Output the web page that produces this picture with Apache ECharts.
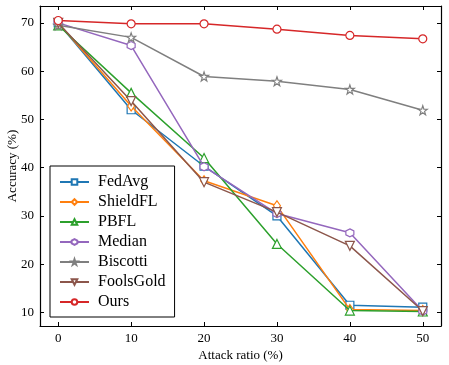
<!DOCTYPE html>
<html><head><meta charset="utf-8">
<script src="https://cdn.jsdelivr.net/npm/echarts@6/dist/echarts.min.js"></script>
<style>html,body{margin:0;padding:0;background:#fff}#c{width:449px;height:365px}</style>
</head><body><div id="c"></div>
<script>
const attackRatios = [0, 10, 20, 30, 40, 50];
const xTicks = [0, 10, 20, 30, 40, 50];
const yTicks = [10, 20, 30, 40, 50, 60, 70];
const seriesNames = ['FedAvg', 'ShieldFL', 'PBFL', 'Median', 'Biscotti', 'FoolsGold', 'Ours'];
const fedAvg    = [70.0, 52.0, 40.3, 30.0, 11.5, 11.1];
const shieldFL  = [70.0, 52.8, 37.3, 32.1, 10.6, 10.4];
const pbfl      = [69.5, 55.5, 42.0, 24.2, 10.4, 10.2];
const median    = [70.0, 65.3, 40.2, 30.5, 26.5, 10.3];
const biscotti  = [69.5, 67.0, 58.9, 57.9, 56.2, 51.9];
const foolsGold = [70.0, 53.8, 37.0, 30.8, 23.8, 10.3];
const ours      = [70.5, 69.8, 69.8, 68.7, 67.4, 66.7];

const values = [fedAvg, shieldFL, pbfl, median, biscotti, foolsGold, ours];
const colors = ['#1f77b4', '#ff7f0e', '#2ca02c', '#9467bd', '#7f7f7f', '#8c564b', '#d62728'];
const hexagon = 'path://M0,-10L8.66,-5L8.66,5L0,10L-8.66,5L-8.66,-5Z';
const star = 'path://M0,-10L2.35,-3.24L9.51,-3.09L3.8,1.24L5.88,8.09L0,4L-5.88,8.09L-3.8,1.24L-9.51,-3.09L-2.35,-3.24Z';
const symbols = ['rect', 'diamond', 'triangle', hexagon, star, 'path://M-9,-8L9,-8L0,9Z', 'circle'];
const symbolSizes = [8, [7, 10], 9, 8, 9, 9, 8];

const font = 'Liberation Serif, Times New Roman, serif';
const chart = echarts.init(document.getElementById('c'), null, {renderer: 'canvas'});

const axisLineStyle = {show: true, onZero: false, lineStyle: {color: '#000', width: 1.2}};
function xAx(pos, showLabel) {
  return {
    type: 'value', position: pos, min: -2.5, max: 52.5,
    axisLine: axisLineStyle,
    axisTick: {show: true, inside: true, length: 4, customValues: xTicks, lineStyle: {color: '#000', width: 1}},
    axisLabel: {show: showLabel, customValues: xTicks, color: '#000', fontFamily: font, fontSize: 13, margin: 6},
    splitLine: {show: false},
    name: showLabel ? 'Attack ratio (%)' : '', nameLocation: 'middle', nameGap: 23, nameMoveOverlap: false,
    nameTextStyle: {color: '#000', fontFamily: font, fontSize: 13}
  };
}
function yAx(pos, showLabel) {
  return {
    type: 'value', position: pos, min: 7.2, max: 73.5,
    axisLine: axisLineStyle,
    axisTick: {show: true, inside: true, length: 4, customValues: yTicks, lineStyle: {color: '#000', width: 1}},
    axisLabel: {show: showLabel, customValues: yTicks, color: '#000', fontFamily: font, fontSize: 13, margin: 6},
    splitLine: {show: false},
    name: showLabel ? 'Accuracy (%)' : '', nameLocation: 'middle', nameGap: 21, nameMoveOverlap: false,
    nameTextStyle: {color: '#000', fontFamily: font, fontSize: 13}
  };
}

const series = seriesNames.map((n, i) => ({
  name: n, type: 'line', xAxisIndex: 0, yAxisIndex: 0,
  data: attackRatios.map((x, j) => [x, values[i][j]]),
  symbol: symbols[i], symbolSize: symbolSizes[i], showAllSymbol: true,
  lineStyle: {color: colors[i], width: 1.5},
  itemStyle: {color: '#fff', borderColor: colors[i], borderWidth: 1.2},
  emphasis: {disabled: true}, animation: false, z: 2 + i
}));

chart.setOption({
  backgroundColor: '#fff',
  animation: false,
  grid: {left: 40, right: 8, top: 6, bottom: 39, containLabel: false, outerBoundsMode: 'none'},
  xAxis: [xAx('bottom', true), xAx('top', false)],
  yAxis: [yAx('left', true), yAx('right', false)],
  legend: {
    orient: 'vertical', left: 50, top: 166,
    data: seriesNames,
    itemWidth: 29, itemHeight: 7, itemGap: 4,
    padding: [8, 9, 7, 9],
    borderColor: '#000', borderWidth: 1, backgroundColor: '#fff', borderRadius: 0,
    textStyle: {color: '#000', fontFamily: font, fontSize: 16, lineHeight: 15.5, padding: [0, 0, 0, 4]}
  },
  series: series
});
</script></body></html>
